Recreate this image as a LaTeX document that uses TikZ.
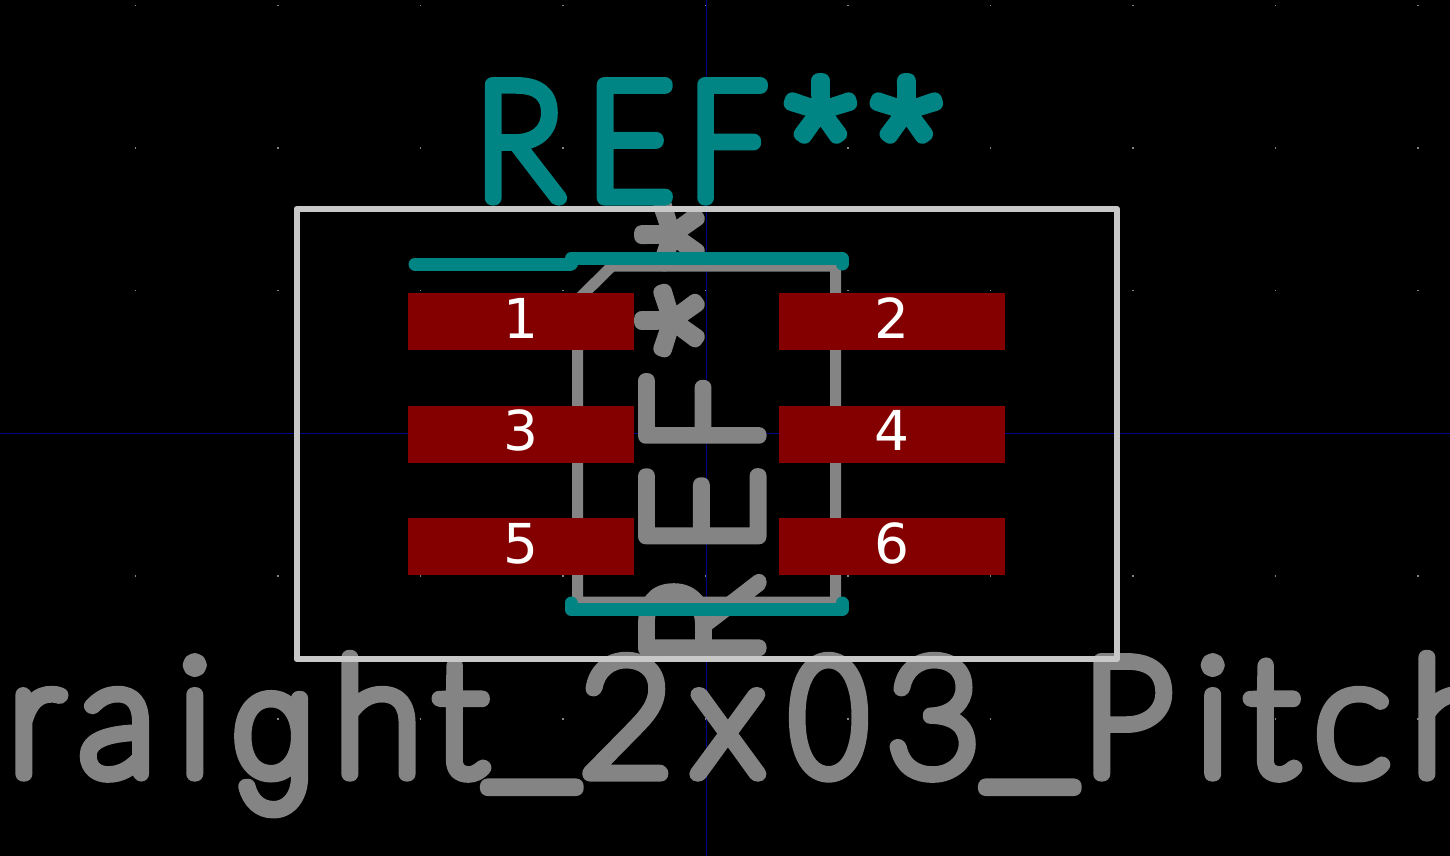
\documentclass[tikz,border=0pt]{standalone}
\usepackage{fontspec}
\newfontfamily\padfont{DejaVu Sans}
\newfontfamily\stkfont{Lato Hairline}
\newfontfamily\capfont[FakeStretch=0.92]{Lato Hairline}
\newfontfamily\effont[FakeStretch=0.84]{Lato Hairline}
\newfontfamily\zerofont[FakeStretch=0.8]{Lato Hairline}
\newfontfamily\firafont{Fira Sans Thin}
\newfontfamily\geefont[FakeStretch=0.8]{Poppins Thin}
\definecolor{kteal}{RGB}{0,132,132}
\definecolor{kgray}{RGB}{132,132,132}
\definecolor{kred}{RGB}{132,0,0}
\definecolor{kblue}{RGB}{0,0,132}
\definecolor{kwhite}{RGB}{200,200,200}
\newcommand{\strokeon}[1]{\special{pdf:code q 1 j 1 J #1 w 2 Tr}}
\newcommand{\strokeoff}{\special{pdf:code Q}}
\newcommand{\G}[2]{\hbox to #1pt{#2\hss}}
\newcommand{\bigfont}{\stkfont\fontsize{162}{162}\selectfont}
\newcommand{\Ast}{\kern 7.5pt\raisebox{-11.5pt}{\firafont\fontsize{176}{176}\selectfont *}}
\newcommand{\Und}{\raisebox{15pt}{\fontsize{225}{225}\selectfont\_}}
\newcommand{\Gee}{{\geefont\fontsize{140}{140}\selectfont g}}
\newcommand{\Zero}{{\zerofont\fontsize{162}{162}\selectfont 0}}
\newcommand{\Eff}{{\effont\fontsize{162}{162}\selectfont F}}
\newcommand{\REFtext}{\bigfont\strokeon{15}\capfont\fontsize{162}{162}\selectfont\G{112}{R}\G{102}{E}\G{86}{\Eff}\G{86}{\Ast}\G{86}{\Ast}\strokeoff}
\tikzset{
  padbox/.style={fill=kred,draw=none,minimum width=226pt,minimum height=57pt,inner sep=0pt,text=white,
    font=\padfont\fontsize{55}{55}\selectfont,text height=40pt,text depth=7pt},
  stk/.style={inner sep=0pt,outer sep=0pt},
  silk/.style={draw=kteal,line width=13pt,line cap=round,line join=round},
  fab/.style={draw=kgray,line width=11pt,line join=miter},
  crt/.style={draw=kwhite,line width=6pt,line join=round},
  axis/.style={draw=kblue,line width=1pt},
  griddot/.style={fill=kgray}
}
\begin{document}
\begin{tikzpicture}[x=1pt,y=-1pt]
\clip (0,0) rectangle (1450,856);
\fill[black] (0,0) rectangle (1450,856);
% grid
\foreach \i in {0,...,9}{\foreach \j in {0,...,5}{
  \fill[griddot] ({135.5+142.5*\i-0.75},{5.3+142.7*\j-0.75}) rectangle +(1.5,1.5);
}}
% axes
\coordinate (vt) at (706,0); \coordinate (vb) at (706,856);
\coordinate (hl) at (0,433.5); \coordinate (hr) at (1450,433.5);
\draw[axis] (vt) -- (vb);
\draw[axis] (hl) -- (hr);
% fabrication layer
\node[stk,anchor=base west,text=kgray] (value) at (0,774) {\bigfont\strokeon{15}\kern 8pt\G{71}{r}\G{99}{a}\G{57}{i}\G{99}{\Gee}\G{100}{h}\G{48}{t}\G{97}{\Und}\G{113}{2}\G{99}{x}\G{95.5}{\Zero}\G{93.5}{3}\G{102}{\Und}\G{114}{P}\G{49}{i}\G{69.5}{t}\G{96.5}{c}\G{60}{h}\strokeoff};
\node[stk,anchor=base west,text=kgray,rotate=90] (reffab) at (759,666) {\REFtext};
\draw[fab] (835.5,266) -- (612,266) -- (577.5,300) -- (577.5,602) -- (835.5,602) -- cycle;
% courtyard
\draw[crt] (296.5,209) rectangle (1117,659);
% pads
\node[padbox] (p1) at (521,321.5) {1};
\node[padbox] (p2) at (892,321.5) {2};
\node[padbox] (p3) at (521,434) {3};
\node[padbox] (p4) at (892,434) {4};
\node[padbox] (p5) at (521,546.5) {5};
\node[padbox] (p6) at (892,546.5) {6};
% silkscreen
\draw[silk] (415,264) -- (570,264);
\draw[silk] (571,264) -- (571,258.5) -- (842,258.5) -- (842,264);
\draw[silk] (571,603) -- (571,609.5) -- (842,609.5) -- (842,603);
\node[stk,anchor=base west,text=kteal] (ref) at (475,198) {\REFtext};
\end{tikzpicture}
\end{document}
